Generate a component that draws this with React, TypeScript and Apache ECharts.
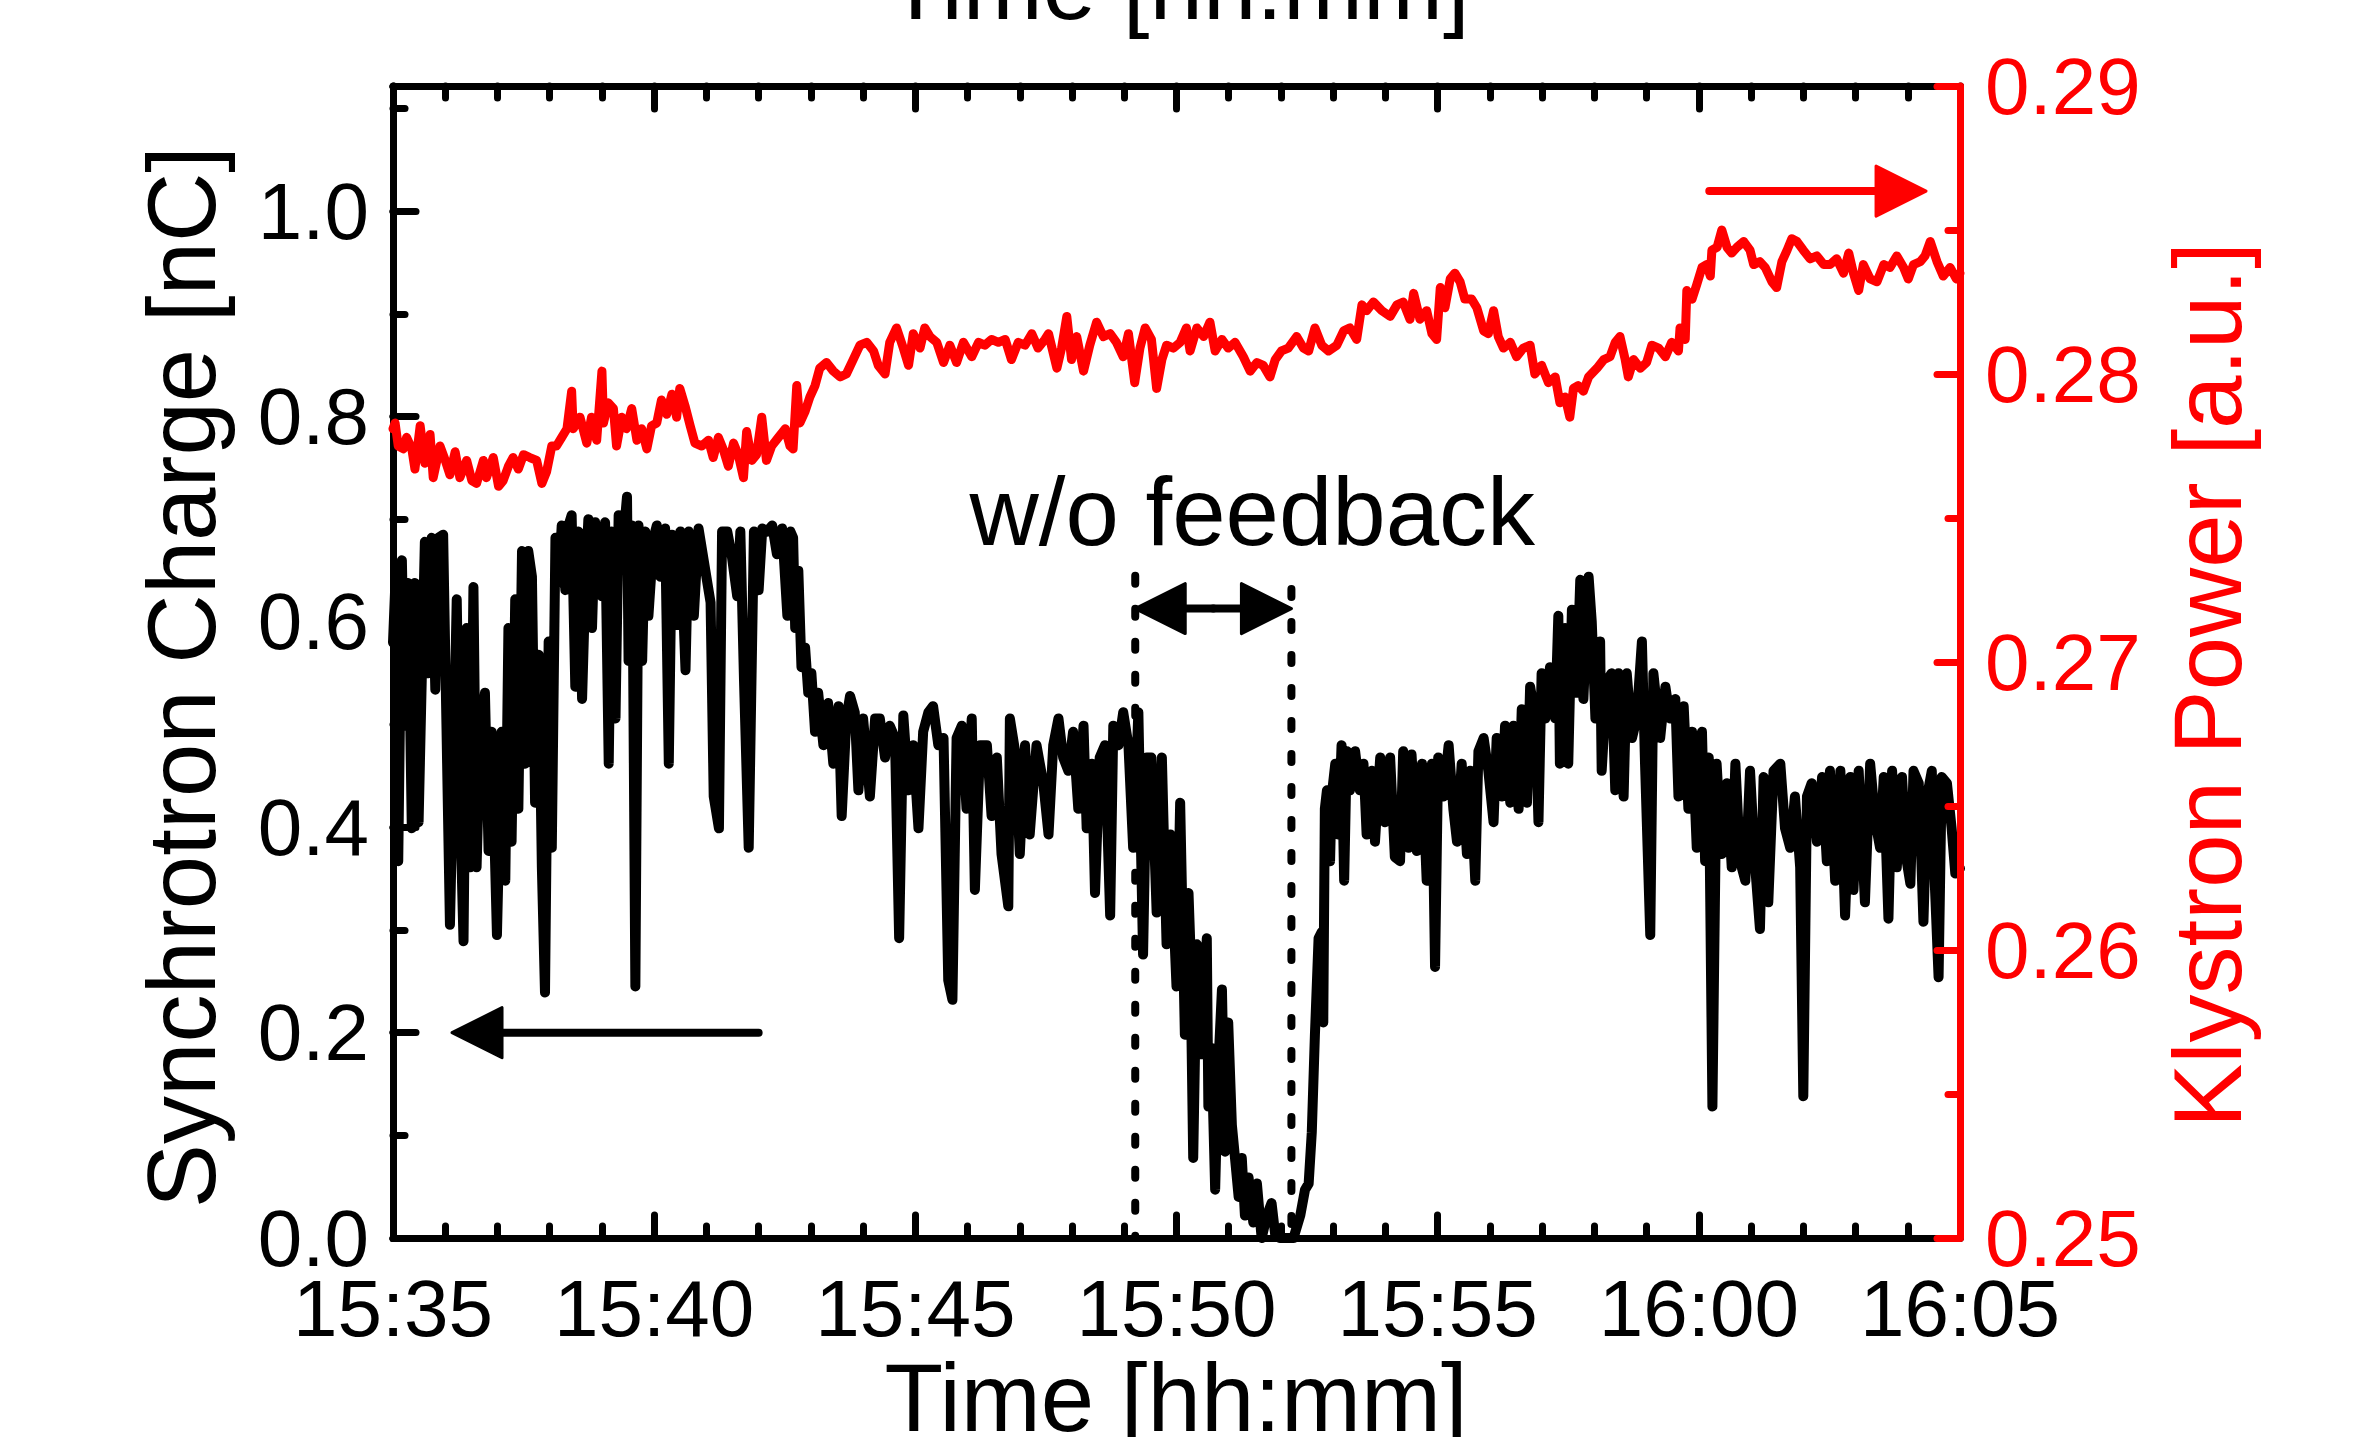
import React, { useEffect, useRef } from "react";
import * as echarts from "echarts";

// ---- Axis definitions ----
const START_HOUR = 15;
const START_MINUTE = 35;
const TIME_SPAN = 30; // minutes shown on the x axis
const chargeRange = [0, 1.122];
const powerRange = [0.25, 0.29];

// ---- Synchrotron charge (black, left axis): minutes after 15:35, nC ----
const chargeTime = [
  0.0, 0.04, 0.1, 0.17, 0.23, 0.29, 0.36, 0.42, 0.49, 0.55, 0.61, 0.68, 0.74, 0.81, 0.87, 0.96,
  1.03, 1.09, 1.16, 1.22, 1.28, 1.35, 1.41, 1.48, 1.54, 1.6, 1.67, 1.76, 1.83, 1.89, 1.99,
  2.08, 2.15, 2.21, 2.27, 2.34, 2.4, 2.47, 2.53, 2.59, 2.66, 2.72, 2.79, 2.85, 2.91, 2.98,
  3.04, 3.11, 3.17, 3.23, 3.3, 3.36, 3.42, 3.49, 3.55, 3.62, 3.68, 3.74, 3.81, 3.87, 3.94,
  4.0, 4.06, 4.13, 4.19, 4.26, 4.32, 4.38, 4.48, 4.51, 4.58, 4.64, 4.7, 4.77, 4.83, 4.89, 4.99,
  5.05, 5.12, 5.21, 5.28, 5.34, 5.44, 5.5, 5.6, 5.66, 5.76, 5.85, 5.98,
  6.08, 6.14, 6.24, 6.3, 6.4, 6.49, 6.59, 6.65, 6.72, 6.81, 6.91,
  7.0, 7.07, 7.16, 7.26, 7.35, 7.45, 7.55, 7.61, 7.66, 7.7, 7.76, 7.82, 7.89, 7.95,
  8.01, 8.08, 8.14, 8.24, 8.33, 8.43, 8.53, 8.59, 8.68, 8.75, 8.84, 8.91,
  9.0, 9.13, 9.23, 9.32, 9.42, 9.51, 9.61, 9.69, 9.77, 9.87, 9.96,
  10.06, 10.15, 10.25, 10.34, 10.44, 10.54, 10.63, 10.71, 10.79, 10.89, 10.98,
  11.08, 11.14, 11.24, 11.37, 11.46, 11.56, 11.65, 11.78, 11.81, 11.91,
  12.0, 12.1, 12.19, 12.32, 12.45, 12.55, 12.64, 12.74, 12.83, 12.93,
  13.02, 13.12, 13.22, 13.28, 13.38, 13.44, 13.53, 13.63, 13.73, 13.79, 13.89, 13.98,
  14.08, 14.17, 14.27, 14.36, 14.43, 14.52, 14.62, 14.72, 14.81, 14.88,
  15.0, 15.07, 15.16, 15.23, 15.26, 15.32, 15.39, 15.48, 15.58, 15.61, 15.67, 15.74, 15.8, 15.87, 15.93, 15.99,
  16.06, 16.12, 16.19, 16.25, 16.31, 16.38, 16.47, 16.54, 16.63, 16.73, 16.82, 16.89, 16.98,
  17.11, 17.24, 17.37, 17.46, 17.53, 17.59, 17.65, 17.72, 17.78, 17.81, 17.84, 17.88, 17.94, 17.97,
  18.04, 18.1, 18.16, 18.21, 18.26, 18.32, 18.42, 18.51, 18.58, 18.64, 18.74, 18.8, 18.9, 18.99,
  19.09, 19.18, 19.28, 19.34, 19.44, 19.5, 19.6, 19.7, 19.79, 19.89, 19.95,
  20.01, 20.11, 20.21, 20.3, 20.37, 20.46, 20.56, 20.62, 20.72, 20.78, 20.88, 20.97,
  21.07, 21.13, 21.23, 21.29, 21.39, 21.45, 21.55, 21.61, 21.71, 21.77, 21.87, 21.93, 21.99,
  22.06, 22.15, 22.25, 22.31, 22.34, 22.44, 22.5, 22.57, 22.66, 22.73, 22.79, 22.89, 22.95,
  23.02, 23.11, 23.14, 23.24, 23.33, 23.4, 23.46, 23.56, 23.62, 23.72, 23.81, 23.91, 23.97,
  24.07, 24.13, 24.26, 24.36, 24.45, 24.55, 24.61, 24.71, 24.8, 24.87, 24.96,
  25.06, 25.12, 25.19, 25.26, 25.34, 25.44, 25.54, 25.63, 25.7, 25.79, 25.89, 25.98,
  26.08, 26.17, 26.24, 26.33, 26.43, 26.56, 26.65, 26.75, 26.84, 26.94,
  27.0, 27.07, 27.16, 27.26, 27.36, 27.45, 27.51, 27.61, 27.71, 27.8, 27.9, 27.96,
  28.06, 28.18, 28.28, 28.38, 28.47, 28.54, 28.63, 28.7, 28.79, 28.89, 28.98,
  29.05, 29.11, 29.21, 29.3, 29.37, 29.46, 29.52, 29.59, 29.65, 29.75, 29.84, 29.91, 30.0,
];
const charge = [
  0.58, 0.631, 0.367, 0.66, 0.499, 0.638, 0.399, 0.638, 0.405, 0.543, 0.678, 0.55, 0.682, 0.534, 0.682, 0.685,
  0.48, 0.305, 0.468, 0.622, 0.43, 0.289, 0.594, 0.361, 0.634, 0.361, 0.493, 0.531, 0.377, 0.493, 0.295,
  0.493, 0.348, 0.594, 0.386, 0.622, 0.418, 0.669, 0.462, 0.669, 0.644, 0.424, 0.568, 0.361, 0.239, 0.581,
  0.38, 0.682, 0.638, 0.694, 0.631, 0.694, 0.704, 0.537, 0.688, 0.525, 0.631, 0.7, 0.594, 0.697, 0.656,
  0.625, 0.697, 0.462, 0.688, 0.506, 0.704, 0.663, 0.722, 0.562, 0.694, 0.245, 0.694, 0.562, 0.688, 0.606, 0.682,
  0.694, 0.644, 0.691, 0.462, 0.685, 0.597, 0.688, 0.553, 0.688, 0.606, 0.691, 0.65,
  0.619, 0.43, 0.399, 0.688, 0.688, 0.663, 0.625, 0.688, 0.543, 0.38, 0.688,
  0.631, 0.691, 0.688, 0.694, 0.666, 0.691, 0.606, 0.688, 0.682, 0.594, 0.65, 0.556, 0.575, 0.531,
  0.55, 0.493, 0.531, 0.48, 0.521, 0.462, 0.518, 0.411, 0.506, 0.528, 0.512, 0.436,
  0.506, 0.43, 0.506, 0.506, 0.468, 0.499, 0.487, 0.292, 0.509, 0.436, 0.48,
  0.399, 0.493, 0.512, 0.518, 0.48, 0.487, 0.251, 0.232, 0.487, 0.499, 0.418,
  0.506, 0.339, 0.48, 0.48, 0.411, 0.468, 0.374, 0.323, 0.506, 0.474,
  0.374, 0.48, 0.393, 0.48, 0.443, 0.393, 0.48, 0.506, 0.468, 0.455,
  0.493, 0.418, 0.499, 0.399, 0.462, 0.336, 0.468, 0.48, 0.314, 0.499, 0.48, 0.512,
  0.48, 0.38, 0.512, 0.276, 0.468, 0.468, 0.317, 0.468, 0.286, 0.393,
  0.245, 0.424, 0.198, 0.336, 0.292, 0.078, 0.286, 0.179, 0.292, 0.128, 0.185, 0.047, 0.166, 0.242, 0.084, 0.21,
  0.11, 0.078, 0.04, 0.078, 0.022, 0.059, 0.015, 0.053, 0.0, 0.022, 0.034, 0.003, 0.0,
  0.0, 0.0, 0.022, 0.047, 0.053, 0.103, 0.198, 0.292, 0.298, 0.21, 0.418, 0.436, 0.367, 0.43,
  0.462, 0.393, 0.48, 0.348, 0.474, 0.436, 0.474, 0.436, 0.462, 0.393, 0.455, 0.386, 0.468, 0.405,
  0.468, 0.371, 0.367, 0.474, 0.38, 0.471, 0.377, 0.462, 0.348, 0.462, 0.264,
  0.468, 0.43, 0.48, 0.418, 0.386, 0.462, 0.374, 0.455, 0.348, 0.474, 0.487, 0.455,
  0.405, 0.487, 0.43, 0.499, 0.424, 0.499, 0.418, 0.515, 0.424, 0.537, 0.506, 0.405, 0.55,
  0.506, 0.556, 0.506, 0.606, 0.462, 0.594, 0.462, 0.612, 0.531, 0.641, 0.525, 0.644, 0.6,
  0.506, 0.581, 0.455, 0.543, 0.55, 0.436, 0.55, 0.43, 0.55, 0.487, 0.506, 0.581, 0.462,
  0.295, 0.55, 0.487, 0.537, 0.506, 0.525, 0.43, 0.518, 0.418, 0.493, 0.38,
  0.493, 0.367, 0.468, 0.128, 0.462, 0.374, 0.443, 0.361, 0.462, 0.367, 0.348, 0.455,
  0.361, 0.301, 0.449, 0.327, 0.455, 0.462, 0.399, 0.38, 0.43, 0.361,
  0.138, 0.43, 0.443, 0.386, 0.449, 0.367, 0.455, 0.348, 0.455, 0.314, 0.449, 0.339,
  0.455, 0.327, 0.462, 0.405, 0.38, 0.449, 0.311, 0.455, 0.361, 0.449, 0.367,
  0.345, 0.455, 0.443, 0.308, 0.43, 0.455, 0.342, 0.254, 0.449, 0.443, 0.399, 0.355, 0.36,
];

// ---- Klystron power (red, right axis): minutes after 15:35, a.u. ----
const powerTime = [
  0.0, 0.04, 0.1, 0.2, 0.26, 0.36, 0.42, 0.52, 0.61, 0.71, 0.77, 0.9,
  1.0, 1.09, 1.19, 1.28, 1.41, 1.51, 1.6, 1.73, 1.79, 1.92,
  2.02, 2.11, 2.21, 2.3, 2.4, 2.5, 2.62, 2.75, 2.85, 2.94,
  3.04, 3.13, 3.23, 3.33, 3.42, 3.45, 3.58, 3.71, 3.8, 3.9,
  4.0, 4.03, 4.12, 4.22, 4.28, 4.38, 4.47, 4.57, 4.67, 4.76, 4.86, 4.95,
  5.05, 5.14, 5.24, 5.34, 5.43, 5.49, 5.59, 5.69, 5.78, 5.91,
  6.04, 6.13, 6.23, 6.32, 6.42, 6.52, 6.61, 6.71, 6.77, 6.87, 6.96,
  7.06, 7.15, 7.25, 7.38, 7.51, 7.6, 7.66, 7.73, 7.79, 7.89, 7.98,
  8.08, 8.17, 8.3, 8.43, 8.56, 8.68, 8.81, 8.94,
  9.07, 9.2, 9.29, 9.42, 9.51, 9.64, 9.77, 9.87, 9.96,
  10.09, 10.18, 10.28, 10.41, 10.54, 10.66, 10.79, 10.92,
  11.08, 11.21, 11.33, 11.46, 11.59, 11.72, 11.84, 11.97,
  12.1, 12.23, 12.35, 12.48, 12.55, 12.71, 12.8, 12.9, 12.99,
  13.09, 13.22, 13.34, 13.47, 13.6, 13.73, 13.85, 13.98,
  14.08, 14.2, 14.3, 14.4, 14.52, 14.62, 14.72, 14.81, 14.94,
  15.07, 15.19, 15.26, 15.39, 15.52, 15.64, 15.74, 15.87, 15.99,
  16.12, 16.28, 16.41, 16.54, 16.66, 16.79, 16.89,
  17.01, 17.14, 17.3, 17.43, 17.53, 17.65, 17.78, 17.91,
  18.07, 18.2, 18.32, 18.45, 18.55, 18.64, 18.77, 18.93,
  19.09, 19.22, 19.34, 19.47, 19.54, 19.66, 19.79, 19.89, 19.98,
  20.05, 20.14, 20.24, 20.33, 20.43, 20.52, 20.65, 20.75, 20.88, 20.97,
  21.07, 21.16, 21.26, 21.39, 21.51, 21.64, 21.77, 21.86, 21.99,
  22.12, 22.25, 22.34, 22.44, 22.53, 22.6, 22.69, 22.79, 22.89,
  23.05, 23.18, 23.3, 23.4, 23.49, 23.59, 23.65, 23.75, 23.88,
  24.0, 24.1, 24.23, 24.36, 24.48, 24.61, 24.64, 24.74, 24.77, 24.87, 24.96,
  25.06, 25.15, 25.22, 25.25, 25.35, 25.44, 25.54, 25.63, 25.73, 25.86, 25.98,
  26.05, 26.17, 26.27, 26.4, 26.49, 26.59, 26.69, 26.78, 26.88,
  27.0, 27.13, 27.26, 27.39, 27.51, 27.64, 27.77, 27.87, 27.96,
  28.06, 28.15, 28.28, 28.41, 28.54, 28.66, 28.79, 28.92,
  29.01, 29.11, 29.24, 29.33, 29.43, 29.56, 29.68, 29.81, 29.93, 30.0,
];
const power = [
  0.2781, 0.2783, 0.2775, 0.2774, 0.2778, 0.2774, 0.2767, 0.2782, 0.2769, 0.2779, 0.2764, 0.2775,
  0.277, 0.2765, 0.2773, 0.2764, 0.277, 0.2763, 0.2762, 0.277, 0.2764, 0.2771,
  0.2761, 0.2763, 0.2768, 0.2771, 0.2767, 0.2772, 0.2771, 0.277, 0.2762, 0.2766,
  0.2775, 0.2775, 0.2778, 0.2781, 0.2794, 0.2781, 0.2785, 0.2776, 0.2785, 0.2777,
  0.2801, 0.2783, 0.279, 0.2788, 0.2775, 0.2785, 0.2781, 0.2788, 0.2777, 0.2781, 0.2774, 0.2782,
  0.2783, 0.2791, 0.2786, 0.2793, 0.2785, 0.2795, 0.2789, 0.2782, 0.2776, 0.2775,
  0.2777, 0.2771, 0.2778, 0.2774, 0.2768, 0.2776, 0.2772, 0.2764, 0.278, 0.277, 0.2772,
  0.2785, 0.277, 0.2775, 0.2778, 0.2781, 0.2775, 0.2774, 0.2796, 0.2783, 0.2787, 0.2792,
  0.2796, 0.2802, 0.2804, 0.2801, 0.2799, 0.28, 0.2805, 0.281,
  0.2811, 0.2808, 0.2803, 0.28, 0.2811, 0.2816, 0.2809, 0.2803, 0.2814,
  0.2809, 0.2816, 0.2813, 0.2811, 0.2804, 0.281, 0.2804, 0.2811,
  0.2806, 0.2811, 0.281, 0.2812, 0.2811, 0.2812, 0.2805, 0.2811,
  0.281, 0.2814, 0.2809, 0.2812, 0.2814, 0.2802, 0.2809, 0.282, 0.2805,
  0.2813, 0.2801, 0.281, 0.2818, 0.2813, 0.2814, 0.2811, 0.2806,
  0.2814, 0.2797, 0.2809, 0.2816, 0.2812, 0.2795, 0.2805, 0.281, 0.2809,
  0.2811, 0.2816, 0.2808, 0.2816, 0.2813, 0.2818, 0.2808, 0.2812, 0.2809,
  0.2811, 0.2806, 0.2801, 0.2804, 0.2803, 0.2799, 0.2805,
  0.2808, 0.2809, 0.2813, 0.2809, 0.2808, 0.2816, 0.281, 0.2808,
  0.281, 0.2815, 0.2816, 0.2812, 0.2824, 0.2822, 0.2825, 0.2822,
  0.282, 0.2824, 0.2825, 0.2819, 0.2828, 0.2819, 0.2822, 0.2814, 0.2812,
  0.283, 0.2823, 0.2833, 0.2835, 0.2832, 0.2826, 0.2826, 0.2823, 0.2815, 0.2814,
  0.2822, 0.2813, 0.2809, 0.2811, 0.2806, 0.2809, 0.281, 0.28, 0.2803,
  0.2797, 0.2799, 0.279, 0.2792, 0.2785, 0.2795, 0.2796, 0.2794, 0.2799,
  0.2802, 0.2805, 0.2806, 0.2811, 0.2813, 0.2805, 0.2799, 0.2805, 0.2802,
  0.2804, 0.281, 0.2809, 0.2806, 0.2811, 0.2808, 0.2816, 0.2812, 0.2829, 0.2826, 0.2831,
  0.2837, 0.2838, 0.2834, 0.2843, 0.2844, 0.285, 0.2844, 0.2842, 0.2844, 0.2846, 0.2843,
  0.2838, 0.2839, 0.2837, 0.2832, 0.283, 0.2839, 0.2843, 0.2847, 0.2846,
  0.2843, 0.284, 0.2841, 0.2838, 0.2838, 0.284, 0.2835, 0.2842, 0.2835,
  0.2829, 0.2838, 0.2833, 0.2832, 0.2838, 0.2837, 0.2841, 0.2837,
  0.2833, 0.2838, 0.2839, 0.2841, 0.2846, 0.2839, 0.2834, 0.2837, 0.2833, 0.2835,
];

// ---- Annotations (data coordinates) ----
const feedbackWindow = [14.21, 17.2]; // minutes after 15:35
const feedbackLineTop = [0.645, 0.632]; // nC
const feedbackArrowLevel = 0.613; // nC
const feedbackLabel = { text: "w/o feedback", t: 16.45, v: 0.708 };
const chargeArrow = { from: 7.0, to: 1.13, v: 0.2 };
const powerArrow = { from: 25.2, to: 29.35, p: 0.28635 };

const xTitle = "Time [hh:mm]";
const leftTitle = "Synchrotron Charge [nC]";
const rightTitle = "Klystron Power [a.u.]";

const FONT = '"Liberation Sans", Arial, Helvetica, sans-serif';
const RED = "#ff0000";
const BLACK = "#000000";

function timeLabel(v: number): string {
  const total = START_HOUR * 60 + START_MINUTE + Math.round(v);
  const h = Math.floor(total / 60);
  const m = total % 60;
  return `${h}:${String(m).padStart(2, "0")}`;
}

function zip(a: number[], b: number[]) {
  return a.map((t, i) => [t, b[i]]);
}

function arrowShapes(x1: number, y1: number, x2: number, y2: number, color: string) {
  const headLen = 50;
  const halfW = 25;
  const dx = x2 - x1;
  const dy = y2 - y1;
  const L = Math.hypot(dx, dy);
  const ux = dx / L;
  const uy = dy / L;
  const bx = x2 - ux * headLen;
  const by = y2 - uy * headLen;
  const px = -uy;
  const py = ux;
  return [
    {
      type: "line",
      shape: { x1, y1, x2: bx + ux * 4, y2: by + uy * 4 },
      style: { stroke: color, lineWidth: 8, lineCap: "round" },
      z: 20,
    },
    {
      type: "polygon",
      shape: {
        points: [
          [x2, y2],
          [bx + px * halfW, by + py * halfW],
          [bx - px * halfW, by - py * halfW],
        ],
      },
      style: { fill: color, stroke: color, lineWidth: 3, lineJoin: "round" },
      z: 20,
    },
  ];
}

const axisLineStyle = (color: string) => ({
  show: true,
  onZero: false,
  lineStyle: { color, width: 7, cap: "round" },
});
const tickStyle = (color: string, length: number) => ({
  show: true,
  inside: true,
  length,
  lineStyle: { color, width: 7, cap: "round" },
});

export default function App() {
  const ref = useRef<HTMLDivElement>(null);

  useEffect(() => {
    if (!ref.current) return;
    const chart = echarts.init(ref.current, null, { renderer: "svg" });

    const xAxisBase = {
      type: "value",
      min: 0,
      max: TIME_SPAN,
      interval: 5,
      axisLine: axisLineStyle(BLACK),
      axisTick: tickStyle(BLACK, 23),
      minorTick: { show: true, splitNumber: 5, length: 12, lineStyle: { color: BLACK, width: 7, cap: "round" } },
      splitLine: { show: false },
      minorSplitLine: { show: false },
    };

    const option: any = {
      animation: false,
      backgroundColor: "#ffffff",
      grid: { left: 393, top: 86, width: 1567, height: 1152, containLabel: false },
      xAxis: [
        {
          ...xAxisBase,
          position: "bottom",
          axisLabel: {
            show: true,
            margin: 30,
            color: BLACK,
            fontSize: 80,
            fontFamily: FONT,
            formatter: (v: number) => timeLabel(v),
          },
        },
        {
          ...xAxisBase,
          position: "top",
          axisLabel: { show: false },
        },
      ],
      yAxis: [
        {
          type: "value",
          position: "left",
          min: chargeRange[0],
          max: chargeRange[1],
          interval: 0.2,
          axisLine: axisLineStyle(BLACK),
          axisTick: tickStyle(BLACK, 23),
          splitLine: { show: false },
          axisLabel: {
            show: true,
            margin: 24,
            color: BLACK,
            fontSize: 80,
            fontFamily: FONT,
            formatter: (v: number) =>
              Math.abs(v * 5 - Math.round(v * 5)) < 1e-6 && v <= 1.0001 ? v.toFixed(1) : "",
          },
        },
        {
          type: "value",
          position: "right",
          min: powerRange[0],
          max: powerRange[1],
          interval: 0.01,
          z: 10,
          axisLine: axisLineStyle(RED),
          axisTick: tickStyle(RED, 23),
          minorTick: { show: true, splitNumber: 2, length: 12, lineStyle: { color: RED, width: 7, cap: "round" } },
          splitLine: { show: false },
          minorSplitLine: { show: false },
          axisLabel: {
            show: true,
            margin: 25,
            color: RED,
            fontSize: 80,
            fontFamily: FONT,
            formatter: (v: number) => v.toFixed(2),
          },
        },
        {
          type: "value",
          position: "left",
          min: chargeRange[0],
          max: chargeRange[1],
          interval: 0.1,
          axisLine: { show: false, onZero: false },
          axisTick: tickStyle(BLACK, 12),
          axisLabel: { show: false },
          splitLine: { show: false },
        },
      ],
      series: [
        {
          name: "Synchrotron Charge",
          type: "line",
          xAxisIndex: 0,
          yAxisIndex: 0,
          data: zip(chargeTime, charge),
          showSymbol: false,
          symbol: "none",
          lineStyle: { color: BLACK, width: 10, join: "round", cap: "round" },
          z: 3,
        },
        {
          name: "Klystron Power",
          type: "line",
          xAxisIndex: 0,
          yAxisIndex: 1,
          data: zip(powerTime, power),
          showSymbol: false,
          symbol: "none",
          lineStyle: { color: RED, width: 9, join: "round", cap: "round" },
          z: 3,
        },
      ],
    };

    chart.setOption(option);

    const toPx = (t: number, v: number, yi = 0) =>
      chart.convertToPixel({ xAxisIndex: 0, yAxisIndex: yi }, [t, v]) as number[];

    const graphics: any[] = [];
    const titleStyle = (text: string, fill: string) => ({
      text,
      fill,
      fontSize: 96,
      fontFamily: FONT,
      align: "center",
      verticalAlign: "middle",
    });

    graphics.push({ type: "text", x: 1176, y: 1397, style: titleStyle(xTitle, BLACK), z: 30 });
    graphics.push({ type: "text", x: 1178, y: -15, style: titleStyle(xTitle, BLACK), z: 30 });
    graphics.push({ type: "text", x: 181, y: 677, rotation: Math.PI / 2, style: titleStyle(leftTitle, BLACK), z: 30 });
    graphics.push({ type: "text", x: 2207, y: 685, rotation: Math.PI / 2, style: titleStyle(rightTitle, RED), z: 30 });

    // dotted window lines
    feedbackWindow.forEach((t, i) => {
      const top = toPx(t, feedbackLineTop[i]);
      const bottom = toPx(t, chargeRange[0]);
      graphics.push({
        type: "line",
        shape: { x1: top[0], y1: top[1], x2: bottom[0], y2: bottom[1] },
        style: { stroke: BLACK, lineWidth: 8, lineDash: [8, 25], lineCap: "round" },
        z: 20,
      });
    });

    // double-headed arrow
    const a1 = toPx(feedbackWindow[0], feedbackArrowLevel);
    const a2 = toPx(feedbackWindow[1], feedbackArrowLevel);
    const mid = [(a1[0] + a2[0]) / 2, a1[1]];
    graphics.push(...arrowShapes(mid[0], mid[1], a1[0], a1[1], BLACK));
    graphics.push(...arrowShapes(mid[0], mid[1], a2[0], a2[1], BLACK));

    const lp = toPx(feedbackLabel.t, feedbackLabel.v);
    graphics.push({
      type: "text",
      x: lp[0],
      y: lp[1],
      style: { text: feedbackLabel.text, fill: BLACK, fontSize: 96, fontFamily: FONT, align: "center", verticalAlign: "middle" },
      z: 30,
    });

    // axis-pointing arrows
    const c1 = toPx(chargeArrow.from, chargeArrow.v);
    const c2 = toPx(chargeArrow.to, chargeArrow.v);
    graphics.push(...arrowShapes(c1[0], c1[1], c2[0], c2[1], BLACK));

    const p1 = toPx(powerArrow.from, powerArrow.p, 1);
    const p2 = toPx(powerArrow.to, powerArrow.p, 1);
    graphics.push(...arrowShapes(p1[0], p1[1], p2[0], p2[1], RED));

    chart.setOption({ graphic: graphics });

    return () => chart.dispose();
  }, []);

  return (
    <div
      ref={ref}
      style={{ position: "fixed", left: 0, top: 0, width: 2374, height: 1437, background: "#ffffff" }}
    />
  );
}
